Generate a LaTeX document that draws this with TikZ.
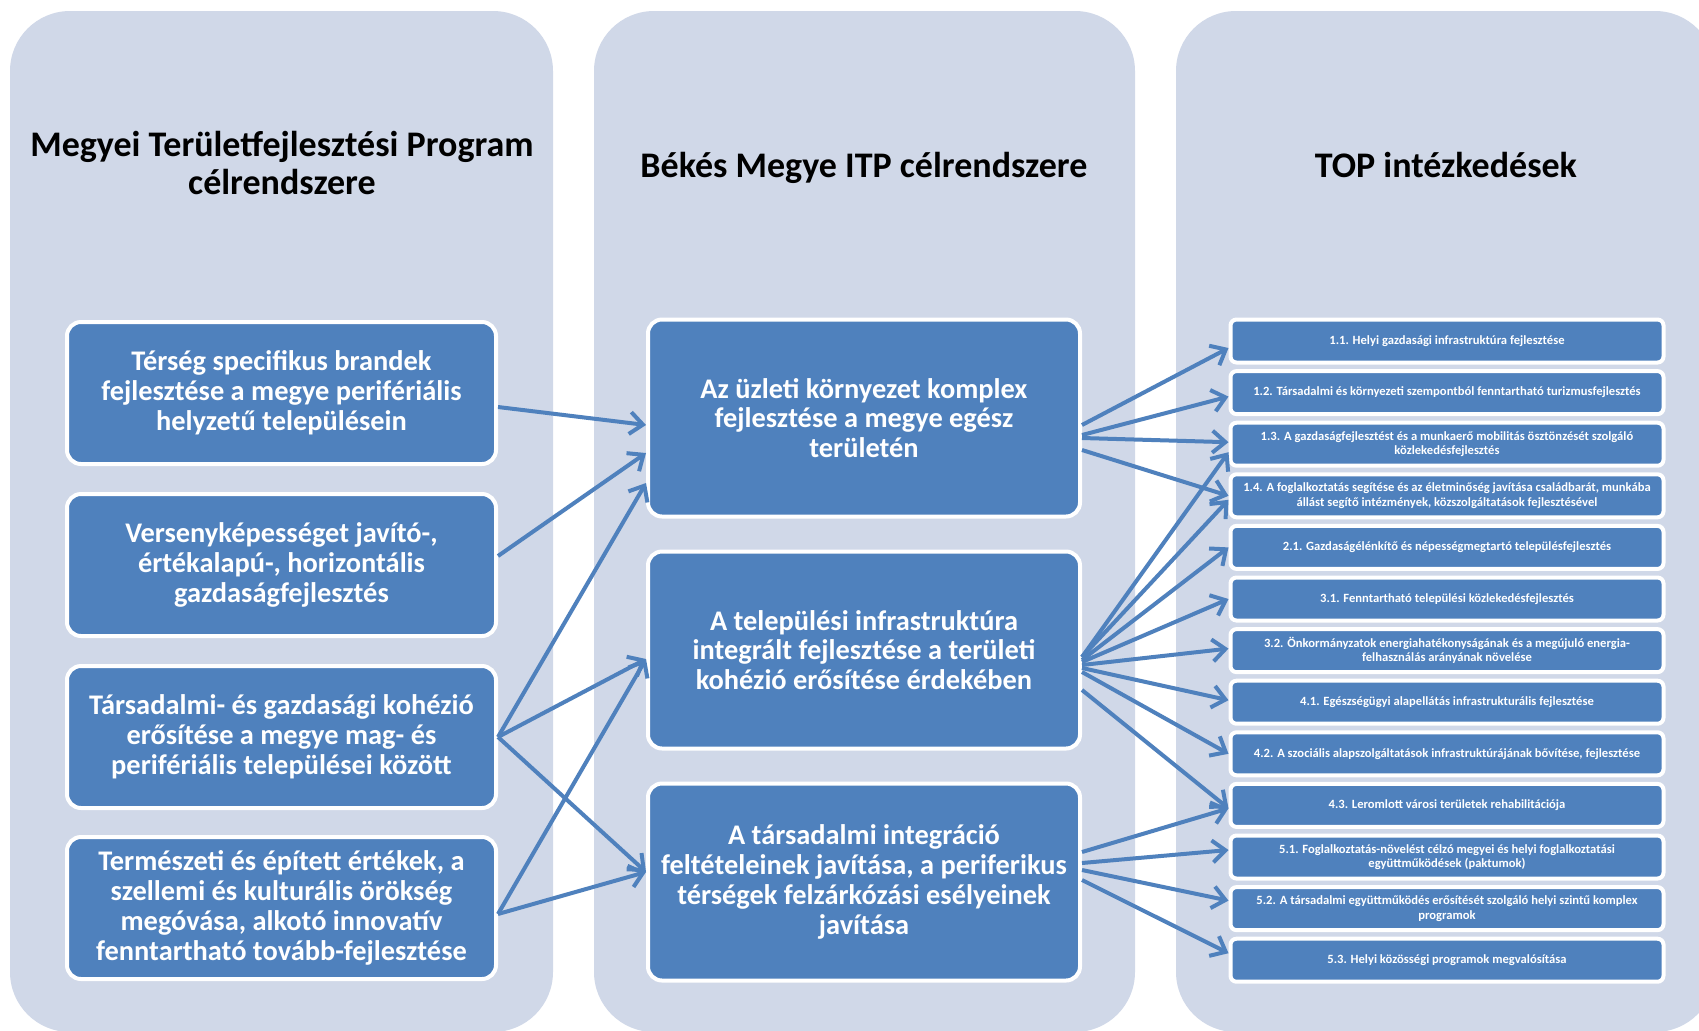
\documentclass[tikz,border=0pt]{standalone}
\usepackage{fontspec}
\setmainfont{Carlito}
\usetikzlibrary{arrows.meta,calc}
\definecolor{panel}{HTML}{D0D8E8}
\definecolor{boxblue}{HTML}{4F81BD}
\definecolor{arrowblue}{HTML}{4F81BD}
\begin{document}
\begin{tikzpicture}[x=0.5pt,y=-0.5pt,
 panelbox/.style={fill=panel, draw=none, rounded corners=30pt},
 bigbox/.style={fill=boxblue, draw=white, line width=2pt, rounded corners=7pt, text=white,
   font=\bfseries\fontsize{14.2}{14.9}\selectfont, align=center,
   minimum width=214.5pt, minimum height=71pt, inner sep=0pt},
 midbox/.style={bigbox, minimum width=216pt, minimum height=98.5pt},
 topbox/.style={fill=boxblue, draw=white, line width=2pt, rounded corners=3pt, text=white,
   font=\bfseries\fontsize{6.3}{7.2}\selectfont, align=center,
   minimum width=216.5pt, minimum height=21.5pt, inner sep=0pt},
 header/.style={font=\bfseries\fontsize{18}{19}\selectfont, align=center, text=black},
 link/.style={draw=arrowblue, line width=2pt, -{Straight Barb[length=6.5pt,width=11pt]}}
]
\useasboundingbox (0,0) rectangle (1699,1030);
\clip (0,0) rectangle (1699,1030);
\fill[white] (0,0) rectangle (1699,1030);
% panels
\fill[panelbox] (10,11) rectangle (553,1032);
\fill[panelbox] (594,11) rectangle (1135,1032);
\fill[panelbox] (1176,11) rectangle (1715,1032);
% headers
\node[header] (h1) at (282,163) {Megyei Területfejlesztési Program\\célrendszere};
\node[header] (h2) at (864,168) {Békés Megye ITP célrendszere};
\node[header] (h3) at (1446,165) {TOP intézkedések};
% left boxes
\node[bigbox] (L1) at (281.5,393) {Térség specifikus brandek\\fejlesztése a megye perifériális\\helyzetű településein};
\node[bigbox] (L2) at (281.5,565) {Versenyképességet javító-,\\értékalapú-, horizontális\\gazdaságfejlesztés};
\node[bigbox] (L3) at (281.5,737) {Társadalmi- és gazdasági kohézió\\erősítése a megye mag- és\\perifériális települései között};
\node[bigbox] (L4) at (281.5,908) {Természeti és épített értékek, a\\szellemi és kulturális örökség\\megóvása, alkotó innovatív\\fenntartható tovább-fejlesztése};
% middle boxes
\node[midbox] (M1) at (864,418) {Az üzleti környezet komplex\\fejlesztése a megye egész\\területén};
\node[midbox] (M2) at (864,650) {A települési infrastruktúra\\integrált fejlesztése a területi\\kohézió erősítése érdekében};
\node[midbox] (M3) at (864,882) {A társadalmi integráció\\feltételeinek javítása, a periferikus\\térségek felzárkózási esélyeinek\\javítása};
% right boxes
\node[topbox] (T1) at (1447,341) {1.1. Helyi gazdasági infrastruktúra fejlesztése};
\node[topbox] (T2) at (1447,392.6) {1.2. Társadalmi és környezeti szempontból fenntartható turizmusfejlesztés};
\node[topbox] (T3) at (1447,444.2) {1.3. A gazdaságfejlesztést és a munkaerő mobilitás ösztönzését szolgáló\\közlekedésfejlesztés};
\node[topbox] (T4) at (1447,495.8) {1.4. A foglalkoztatás segítése és az életminőség javítása családbarát, munkába\\állást segítő intézmények, közszolgáltatások fejlesztésével};
\node[topbox] (T5) at (1447,547.4) {2.1. Gazdaságélénkítő és népességmegtartó településfejlesztés};
\node[topbox] (T6) at (1447,599) {3.1. Fenntartható települési közlekedésfejlesztés};
\node[topbox] (T7) at (1447,650.6) {3.2. Önkormányzatok energiahatékonyságának és a megújuló energia-\\felhasználás arányának növelése};
\node[topbox] (T8) at (1447,702.2) {4.1. Egészségügyi alapellátás infrastrukturális fejlesztése};
\node[topbox] (T9) at (1447,753.8) {4.2. A szociális alapszolgáltatások infrastruktúrájának bővítése, fejlesztése};
\node[topbox] (T10) at (1447,805.4) {4.3. Leromlott városi területek rehabilitációja};
\node[topbox] (T11) at (1447,857) {5.1. Foglalkoztatás-növelést célzó megyei és helyi foglalkoztatási\\együttműködések (paktumok)};
\node[topbox] (T12) at (1447,908.6) {5.2. A társadalmi együttműködés erősítését szolgáló helyi szintű komplex\\programok};
\node[topbox] (T13) at (1447,960.2) {5.3. Helyi közösségi programok megvalósítása};
% left -> middle
\draw[link] ([yshift=-7pt]L1.east) -- ([yshift=-3.5pt]M1.west);
\draw[link] ([yshift=4.5pt]L2.east) -- ([yshift=-17.5pt]M1.west);
\draw[link] (L3.east) -- ([yshift=-32.5pt]M1.west);
\draw[link] (L3.east) -- ([yshift=-4.5pt]M2.west);
\draw[link] (L3.east) -- ([yshift=5pt]M3.west);
\draw[link] ([yshift=-3pt]L4.east) -- ([yshift=-4.5pt]M2.west);
\draw[link] ([yshift=-3pt]L4.east) -- ([yshift=5pt]M3.west);
% M1 -> T
\draw[link] ([yshift=-3.5pt]M1.east) -- ([yshift=-3.5pt]T1.west);
\draw[link] ([yshift=-8.5pt]M1.east) -- ([yshift=-2pt]T2.west);
\draw[link] ([yshift=-10pt]M1.east) -- ([yshift=1pt]T3.west);
\draw[link] ([yshift=-16pt]M1.east) -- (T4.west);
% M2 -> T
\draw[link] ([yshift=-3.5pt]M2.east) -- ([yshift=-4pt]T3.west);
\draw[link] ([yshift=-3.5pt]M2.east) -- ([yshift=-2pt]T4.west);
\draw[link] ([yshift=-5pt]M2.east) -- (T5.west);
\draw[link] ([yshift=-6pt]M2.east) -- (T6.west);
\draw[link] ([yshift=-7.5pt]M2.east) -- ([yshift=1pt]T7.west);
\draw[link] ([yshift=-9pt]M2.east) -- ([yshift=1pt]T8.west);
\draw[link] ([yshift=-11pt]M2.east) -- (T9.west);
\draw[link] ([yshift=-20pt]M2.east) -- ([yshift=-1.5pt]T10.west);
% M3 -> T
\draw[link] ([yshift=15pt]M3.east) -- ([yshift=-1.5pt]T10.west);
\draw[link] ([yshift=9.5pt]M3.east) -- ([yshift=3.5pt]T11.west);
\draw[link] ([yshift=6pt]M3.east) -- ([yshift=4pt]T12.west);
\draw[link] ([yshift=1pt]M3.east) -- ([yshift=3.5pt]T13.west);
\end{tikzpicture}
\end{document}
